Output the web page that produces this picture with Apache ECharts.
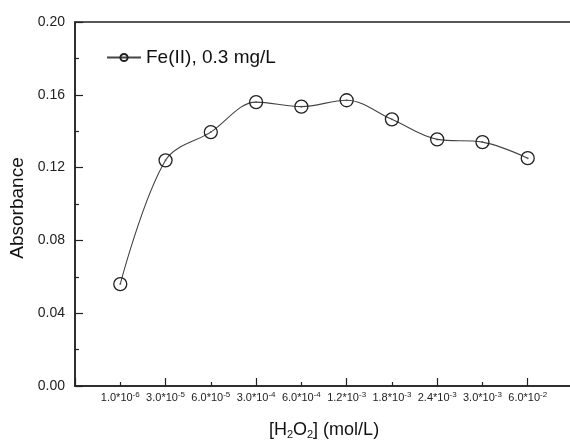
<!DOCTYPE html>
<html>
<head>
<meta charset="utf-8">
<script src="https://cdn.jsdelivr.net/npm/echarts@6/dist/echarts.min.js"></script>
<style>html,body{margin:0;padding:0;background:#fff;overflow:hidden;}#c{width:580px;height:441px;}</style>
</head>
<body>
<div id="c"></div>
<script>
// Data
var xMantissa = ['1.0', '3.0', '6.0', '3.0', '6.0', '1.2', '1.8', '2.4', '3.0', '6.0'];
var xExponent = ['-6', '-5', '-5', '-4', '-4', '-3', '-3', '-3', '-3', '-2'];
var absorbance = [0.056, 0.124, 0.1395, 0.156, 0.1535, 0.157, 0.1465, 0.1355, 0.134, 0.1252];
var yTicks = [0, 0.04, 0.08, 0.12, 0.16, 0.20];
var seriesName = 'Fe(II), 0.3 mg/L';

var FONT = '"Liberation Sans", Arial, Helvetica, sans-serif';
var pts = absorbance.map(function (v, i) { return [i + 1, v]; });

var chart = echarts.init(document.getElementById('c'), null, { renderer: 'canvas' });
chart.setOption({
  backgroundColor: '#ffffff',
  animation: false,
  grid: {
    left: 75, right: 7, top: 22, bottom: 55,
    outerBoundsMode: 'none', containLabel: false,
    show: true, borderColor: '#222', borderWidth: 1.5
  },
  legend: {
    data: [seriesName],
    left: 101, top: 43,
    itemWidth: 34, itemHeight: 9, itemGap: 6,
    textStyle: { fontFamily: FONT, fontSize: 19, color: '#111' }
  },
  xAxis: [{
    type: 'value', min: 0, max: 11, interval: 1, position: 'bottom',
    axisLine: { show: true, lineStyle: { color: '#222', width: 1.5 } },
    axisTick: { show: false },
    splitLine: { show: false },
    axisLabel: {
      margin: 5,
      formatter: function (v) {
        var i = Math.round(v) - 1;
        if (i < 0 || i >= xMantissa.length || Math.abs(v - Math.round(v)) > 1e-6) return '';
        return '{b|' + xMantissa[i] + '*10}{s|' + xExponent[i] + '}';
      },
      rich: {
        b: { fontFamily: FONT, fontSize: 11, color: '#222' },
        s: { fontFamily: FONT, fontSize: 8, color: '#222', padding: [0, 0, 6, 0] }
      }
    },
    name: '[H{sub|2}O{sub|2}] (mol/L)',
    nameLocation: 'middle', nameGap: 35,
    nameTextStyle: {
      fontFamily: FONT, fontSize: 18, color: '#111',
      rich: { sub: { fontFamily: FONT, fontSize: 11, color: '#111', padding: [8, 0, 0, 0] } }
    }
  }, {
    type: 'value', min: 0, max: 11, interval: 2, position: 'bottom', gridIndex: 0,
    axisLine: { show: false },
    axisLabel: { show: false },
    splitLine: { show: false },
    axisTick: { show: true, inside: true, length: 8, lineStyle: { color: '#222', width: 1.2 } },
    minorTick: { show: true, splitNumber: 2, length: 4, lineStyle: { color: '#222', width: 1.2 } }
  }],
  yAxis: {
    type: 'value', min: yTicks[0], max: yTicks[yTicks.length - 1], interval: yTicks[1] - yTicks[0],
    axisLine: { show: true, lineStyle: { color: '#222', width: 1.5 } },
    axisTick: { show: true, inside: true, length: 8, lineStyle: { color: '#222', width: 1.2 } },
    minorTick: { show: true, splitNumber: 2, length: 4, lineStyle: { color: '#222', width: 1.2 } },
    splitLine: { show: false },
    axisLabel: {
      margin: 10, fontFamily: FONT, fontSize: 14, color: '#222',
      formatter: function (v) { return v.toFixed(2); }
    },
    name: 'Absorbance', nameLocation: 'middle', nameGap: 43,
    nameTextStyle: { fontFamily: FONT, fontSize: 19, color: '#111', padding: [0, 8, 0, 0] }
  },
  series: [{
    name: seriesName,
    type: 'line',
    data: pts,
    smooth: 0.35,
    symbol: 'circle',
    symbolSize: 13,
    showSymbol: true,
    lineStyle: { color: '#444', width: 1.1 },
    itemStyle: { color: 'rgba(255,255,255,0)', borderColor: '#222', borderWidth: 1.3 },
    z: 3
  }, {
    name: 'dots',
    type: 'scatter',
    data: pts,
    symbol: 'circle',
    symbolSize: 2,
    itemStyle: { color: '#555' },
    silent: true,
    z: 4
  }]
});
</script>
</body>
</html>
